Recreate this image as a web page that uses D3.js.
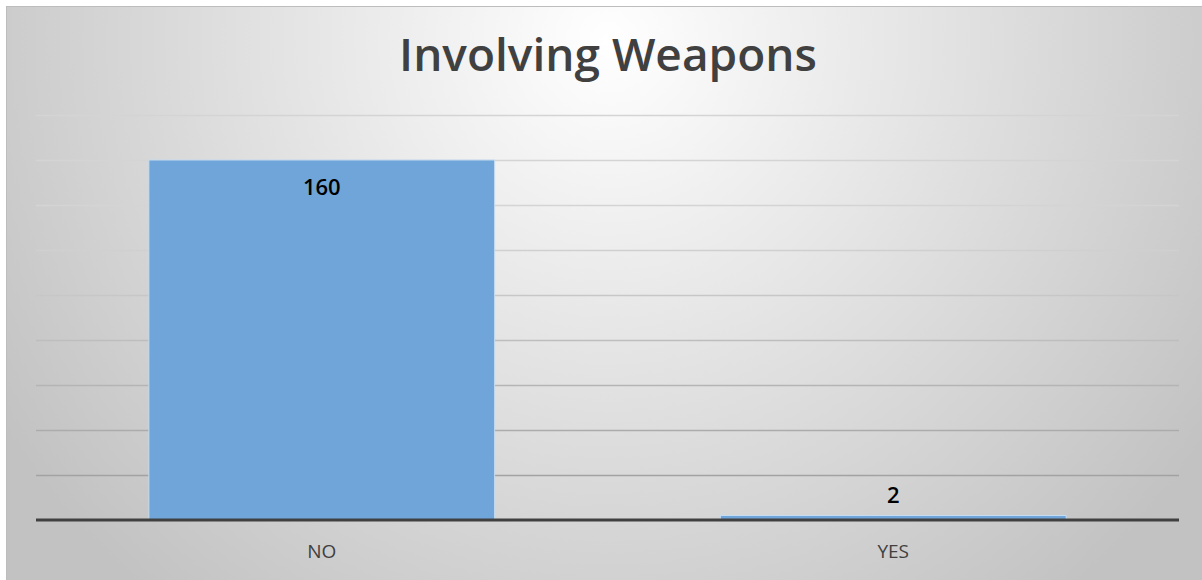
<!DOCTYPE html>
<html>
<head>
<meta charset="utf-8">
<script src="https://cdn.jsdelivr.net/npm/d3@7"></script>
<style>
  body { margin: 0; background: #fff; }
  svg { display: block; }
</style>
</head>
<body>
<script>
const width = 1202;
const height = 580;
const margin = { top: 115, right: 23, bottom: 60, left: 36 }; // plot area inside the frame

// chart data
const categories = ['NO', 'YES'];
const counts = [160, 2];
const yTicks = [0, 20, 40, 60, 80, 100, 120, 140, 160, 180];
const chartTitle = 'Involving Weapons';

const svg = d3.select('body').append('svg')
    .attr('width', width)
    .attr('height', height);

const defs = svg.append('defs');

// radial background, white near the title, grey at the corners
const bg = defs.append('radialGradient')
    .attr('id', 'bg')
    .attr('gradientUnits', 'userSpaceOnUse')
    .attr('cx', 608).attr('cy', 40).attr('r', 720);
bg.append('stop').attr('offset', '0%').attr('stop-color', '#ffffff');
bg.append('stop').attr('offset', '100%').attr('stop-color', '#c2c2c2');

// gridlines fade from light at the top to darker at the bottom
const gridGrad = defs.append('linearGradient')
    .attr('id', 'grid')
    .attr('gradientUnits', 'userSpaceOnUse')
    .attr('x1', 0).attr('y1', 115).attr('x2', 0).attr('y2', 480);
gridGrad.append('stop').attr('offset', '0%').attr('stop-color', '#d4d4d4');
gridGrad.append('stop').attr('offset', '100%').attr('stop-color', '#8a8a8a');

svg.append('rect')
    .attr('x', 6.5).attr('y', 6.5)
    .attr('width', width - 6).attr('height', height)
    .attr('fill', 'url(#bg)')
    .attr('stroke', '#bdbdbd')
    .attr('stroke-width', 1);

const plotW = width - margin.left - margin.right;
const plotH = height - margin.top - margin.bottom;

const g = svg.append('g')
    .attr('transform', `translate(${margin.left},${margin.top})`);

const x = d3.scaleBand()
    .domain(categories)
    .range([0, plotW])
    .paddingInner(0.395)
    .paddingOuter(0.1975);

const y = d3.scaleLinear()
    .domain([0, 180])
    .range([plotH, 0]);

// horizontal gridlines (no tick labels in the original)
g.append('g')
    .selectAll('line')
    .data(yTicks.filter(d => d > 0))
    .enter().append('line')
    .attr('x1', 0)
    .attr('x2', plotW)
    .attr('y1', d => Math.round(y(d)) + 0.5)
    .attr('y2', d => Math.round(y(d)) + 0.5)
    .attr('stroke', 'url(#grid)')
    .attr('stroke-width', 1.5);

// bars
g.append('g')
    .selectAll('rect')
    .data(counts)
    .enter().append('rect')
    .attr('x', (d, i) => x(categories[i]))
    .attr('y', d => y(d))
    .attr('width', x.bandwidth())
    .attr('height', d => plotH - y(d))
    .attr('fill', '#6fa5d8')
    .attr('stroke', '#c6dcf0')
    .attr('stroke-width', 1);

// baseline
g.append('line')
    .attr('x1', 0).attr('x2', plotW)
    .attr('y1', y(0)).attr('y2', y(0))
    .attr('stroke', '#404040')
    .attr('stroke-width', 3);

// value labels: inside the tall bar, above the short one
g.append('g')
    .selectAll('text')
    .data(counts)
    .enter().append('text')
    .attr('x', (d, i) => x(categories[i]) + x.bandwidth() / 2)
    .attr('y', d => (plotH - y(d) > 40) ? y(d) + 35 : y(d) - 13)
    .attr('text-anchor', 'middle')
    .attr('font-family', 'Open Sans, sans-serif')
    .attr('font-size', '22px')
    .attr('font-weight', 600)
    .attr('fill', '#000')
    .text(d => d);

// category axis labels
g.append('g')
    .selectAll('text')
    .data(categories)
    .enter().append('text')
    .attr('x', d => x(d) + x.bandwidth() / 2)
    .attr('y', plotH + 38)
    .attr('text-anchor', 'middle')
    .attr('font-family', 'Open Sans, sans-serif')
    .attr('font-size', '19px')
    .attr('fill', '#404040')
    .text(d => d);

// title
svg.append('text')
    .attr('x', 608)
    .attr('y', 71)
    .attr('text-anchor', 'middle')
    .attr('font-family', 'Open Sans, sans-serif')
    .attr('font-size', '46px')
    .attr('font-weight', 600)
    .attr('fill', '#404040')
    .text(chartTitle);
</script>
</body>
</html>
